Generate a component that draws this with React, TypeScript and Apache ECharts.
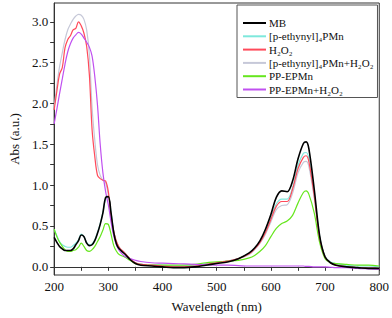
import React, { useEffect, useRef } from "react";
import * as echarts from "echarts";

const wavelengths = [200, 205, 210, 215, 220, 225, 230, 235, 240, 245, 250, 255, 260, 265, 270, 275, 280, 285, 290, 295, 300, 305, 310, 315, 320, 330, 340, 350, 360, 380, 400, 420, 440, 460, 480, 500, 520, 540, 560, 570, 580, 590, 600, 610, 620, 630, 640, 650, 660, 665, 670, 680, 690, 700, 710, 720, 740, 760, 780, 800];

const mb = [0.36, 0.30, 0.25, 0.22, 0.20, 0.20, 0.20, 0.22, 0.27, 0.32, 0.39, 0.37, 0.29, 0.26, 0.27, 0.32, 0.41, 0.52, 0.66, 0.85, 0.86, 0.66, 0.42, 0.28, 0.22, 0.16, 0.09, 0.04, 0.02, 0.01, 0.0, -0.01, -0.01, 0.0, 0.02, 0.04, 0.06, 0.10, 0.17, 0.23, 0.32, 0.46, 0.64, 0.85, 0.93, 0.92, 1.05, 1.32, 1.51, 1.53, 1.45, 0.95, 0.38, 0.12, 0.05, 0.02, 0.0, -0.01, -0.02, -0.02];
const pEthynyl = [0.46, 0.38, 0.31, 0.27, 0.25, 0.24, 0.24, 0.26, 0.29, 0.33, 0.40, 0.37, 0.30, 0.27, 0.28, 0.33, 0.42, 0.53, 0.67, 0.83, 0.85, 0.66, 0.43, 0.29, 0.23, 0.17, 0.09, 0.05, 0.03, 0.02, 0.02, 0.01, 0.01, 0.02, 0.04, 0.05, 0.07, 0.10, 0.17, 0.23, 0.31, 0.44, 0.60, 0.77, 0.83, 0.83, 0.97, 1.24, 1.39, 1.40, 1.33, 0.90, 0.38, 0.13, 0.06, 0.04, 0.02, 0.01, 0.01, 0.0];
const h2o2 = [1.92, 2.15, 2.36, 2.44, 2.68, 2.78, 2.83, 2.90, 2.92, 3.00, 2.95, 2.86, 2.70, 2.35, 1.68, 1.35, 1.12, 1.08, 1.06, 1.05, 0.92, 0.62, 0.43, 0.31, 0.24, 0.17, 0.10, 0.05, 0.03, 0.02, 0.01, 0.0, 0.0, 0.01, 0.03, 0.05, 0.07, 0.10, 0.16, 0.22, 0.30, 0.42, 0.58, 0.74, 0.80, 0.80, 0.95, 1.20, 1.34, 1.36, 1.29, 0.87, 0.36, 0.12, 0.05, 0.02, 0.0, -0.01, -0.02, -0.02];
const pEthynylH2o2 = [1.95, 2.22, 2.45, 2.62, 2.78, 2.90, 2.97, 3.03, 3.07, 3.09, 3.08, 3.03, 2.90, 2.60, 1.95, 1.55, 1.25, 1.12, 1.06, 1.03, 0.88, 0.62, 0.43, 0.31, 0.24, 0.17, 0.10, 0.05, 0.03, 0.02, 0.01, 0.0, 0.0, 0.01, 0.03, 0.05, 0.07, 0.10, 0.15, 0.21, 0.29, 0.40, 0.55, 0.70, 0.75, 0.76, 0.90, 1.15, 1.28, 1.29, 1.23, 0.84, 0.35, 0.12, 0.05, 0.02, 0.0, -0.01, -0.02, -0.02];
const ppEpmn = [0.46, 0.37, 0.30, 0.25, 0.21, 0.19, 0.19, 0.20, 0.21, 0.24, 0.29, 0.25, 0.20, 0.19, 0.21, 0.25, 0.31, 0.37, 0.45, 0.53, 0.52, 0.40, 0.26, 0.19, 0.15, 0.12, 0.08, 0.04, 0.03, 0.02, 0.02, 0.02, 0.02, 0.03, 0.05, 0.06, 0.07, 0.08, 0.11, 0.14, 0.19, 0.26, 0.37, 0.47, 0.53, 0.56, 0.63, 0.78, 0.91, 0.93, 0.89, 0.66, 0.30, 0.10, 0.05, 0.04, 0.03, 0.02, 0.02, 0.01];
const ppEpmnH2o2 = [1.75, 1.93, 2.12, 2.30, 2.48, 2.63, 2.73, 2.80, 2.84, 2.87, 2.85, 2.80, 2.75, 2.69, 2.58, 2.33, 1.98, 1.50, 1.15, 0.92, 0.76, 0.55, 0.38, 0.27, 0.20, 0.13, 0.10, 0.08, 0.065, 0.05, 0.045, 0.04, 0.035, 0.03, 0.025, 0.02, 0.02, 0.015, 0.01, 0.01, 0.01, 0.01, 0.01, 0.01, 0.01, 0.01, 0.01, 0.01, 0.01, 0.005, 0.005, 0.0, 0.0, 0.0, -0.005, -0.01, -0.01, -0.02, -0.025, -0.03];

const seriesNames = ["MB", "[p-ethynyl]₄PMn", "H₂O₂", "[p-ethynyl]₄PMn+H₂O₂", "PP-EPMn", "PP-EPMn+H₂O₂"];
const seriesColors = ["#000000", "#7ee8dc", "#ff4a5a", "#c6c8d8", "#66e61e", "#c050f0"];
const seriesValues = [mb, pEthynyl, h2o2, pEthynylH2o2, ppEpmn, ppEpmnH2o2];
const seriesZ = [8, 4, 6, 3, 5, 7];

const yLabelValues = [0, 0.5, 1.0, 1.5, 2.0, 2.5, 3.0];
const yTickValues = [0, 0.25, 0.5, 0.75, 1.0, 1.25, 1.5, 1.75, 2.0, 2.25, 2.5, 2.75, 3.0];

const FONT = "Liberation Serif, Times New Roman, serif";

export default function App() {
  const ref = useRef<HTMLDivElement>(null);
  useEffect(() => {
    if (!ref.current) return;
    const chart = echarts.init(ref.current, null, { renderer: "svg" });
    chart.setOption({
      animation: false,
      textStyle: { fontFamily: FONT },
      grid: { left: 39, right: 11, top: 3, bottom: 40, show: true, borderColor: "#333", borderWidth: 1 },
      legend: {
        orient: "vertical",
        left: 237,
        top: 5,
        padding: [12, 4, 2, 6],
        itemGap: 1.3,
        itemWidth: 23,
        itemHeight: 2,
        icon: "rect",
        borderColor: "#555",
        borderWidth: 1,
        textStyle: { fontFamily: FONT, fontSize: 11, lineHeight: 12, color: "#111", padding: [0, 0, 0, -2] },
        data: seriesNames,
      },
      xAxis: {
        type: "value",
        min: 200,
        max: 800,
        interval: 50,
        name: "Wavelength (nm)",
        nameLocation: "middle",
        nameGap: 25,
        nameTextStyle: { fontFamily: FONT, fontSize: 13, color: "#111" },
        axisLine: { lineStyle: { color: "#333" } },
        axisTick: { show: true, length: 4, lineStyle: { color: "#333" } },
        axisLabel: {
          fontFamily: FONT,
          fontSize: 13,
          color: "#111",
          margin: 5,
          formatter: (v: number) => (v % 100 === 0 ? String(v) : ""),
        },
        splitLine: { show: false },
      },
      yAxis: {
        type: "value",
        min: -0.1,
        max: 3.23,
        name: "Abs (a.u.)",
        nameLocation: "middle",
        nameGap: 27,
        nameRotate: 90,
        nameTextStyle: { fontFamily: FONT, fontSize: 13, color: "#111" },
        axisLine: { show: true, lineStyle: { color: "#333" } },
        axisTick: { show: true, length: 4, customValues: yTickValues, lineStyle: { color: "#333" } },
        axisLabel: {
          fontFamily: FONT,
          fontSize: 13,
          color: "#111",
          margin: 6,
          customValues: yLabelValues,
          formatter: (v: number) => v.toFixed(1),
        },
        splitLine: { show: false },
      },
      series: seriesNames.map((name, i) => ({
        name,
        type: "line",
        showSymbol: false,
        symbol: "none",
        smooth: 0.35,
        z: seriesZ[i],
        lineStyle: { color: seriesColors[i], width: i === 0 ? 1.6 : 1.2 },
        itemStyle: { color: seriesColors[i] },
        data: wavelengths.map((w, j) => [w, seriesValues[i][j]]),
      })),
    });
    return () => chart.dispose();
  }, []);
  return <div ref={ref} style={{ width: 392, height: 318, position: "absolute", left: 0, top: 0, background: "#fff" }} />;
}
